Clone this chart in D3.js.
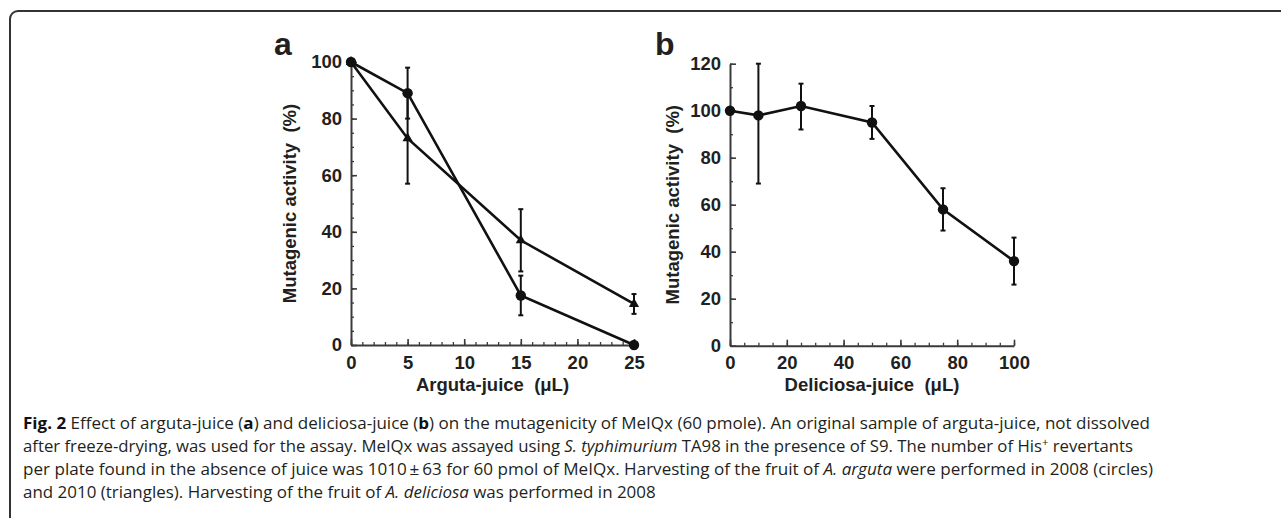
<!DOCTYPE html>
<html><head><meta charset="utf-8">
<script src="https://cdn.jsdelivr.net/npm/d3@7"></script>
<style>
html,body{margin:0;padding:0;background:#fff;}
svg{display:block;}
</style></head>
<body>
<svg id="c" width="1281" height="518"></svg>
<script>
// ---- data ----
const aX = [0, 5, 15, 25];
const aCircle = [100, 89, 17.5, 0];
const aCircleErr = [0, 9, 7, 0];
const aTri = [100, 73, 37, 14.5];
const aTriErr = [0, 16, 11, 3.5];
const aXTicks = [0, 5, 10, 15, 20, 25];
const aYTicks = [0, 20, 40, 60, 80, 100];

const bX = [0, 10, 25, 50, 75, 100];
const bY = [100, 98, 102, 95, 58, 36];
const bErrUp = [0, 22, 9.5, 7, 9, 10];
const bErrDown = [0, 29, 10, 7, 9, 10];
const bXTicks = [0, 20, 40, 60, 80, 100];
const bYTicks = [0, 20, 40, 60, 80, 100, 120];

const captionLines = [
  [["Fig. 2","b"],[" Effect of arguta-juice (",""],["a","b"],[") and deliciosa-juice (",""],["b","b"],[") on the mutagenicity of MeIQx (60 pmole). An original sample of arguta-juice, not dissolved",""]],
  [["after freeze-drying, was used for the assay. MeIQx was assayed using ",""],["S. typhimurium","i"],[" TA98 in the presence of S9. The number of His",""],["+","sup"],[" revertants",""]],
  [["per plate found in the absence of juice was 1010\u2009\u00b1\u200963 for 60 pmol of MeIQx. Harvesting of the fruit of ",""],["A. arguta","i"],[" were performed in 2008 (circles)",""]],
  [["and 2010 (triangles). Harvesting of the fruit of ",""],["A. deliciosa","i"],[" was performed in 2008",""]]
];

// ---- drawing ----
const svg = d3.select("#c");
const ink = "#231f20";
const axisCol = "#3a3a3a";
const fs = 18.5;
const ff = "'Liberation Sans', Arial, sans-serif";

// frame
svg.append("rect").attr("x",10).attr("y",11).attr("width",1400).attr("height",700)
  .attr("rx",8).attr("fill","none").attr("stroke","#333").attr("stroke-width",2);

function panel(cfg){
  const g = svg.append("g");
  const x = d3.scaleLinear().domain(cfg.xDomain).range(cfg.xRange);
  const y = d3.scaleLinear().domain(cfg.yDomain).range(cfg.yRange);
  const y0 = cfg.yRange[0], x0 = cfg.xRange[0];

  // minor ticks
  g.append("g").attr("transform",`translate(0,${y0})`)
    .call(d3.axisBottom(x).tickValues(d3.range(cfg.xDomain[0],cfg.xDomain[1]+1e-9,cfg.xMinor)).tickSizeInner(-3).tickSizeOuter(0).tickFormat(""))
    .call(s=>{s.select(".domain").remove(); s.selectAll("line").attr("stroke",axisCol).attr("stroke-width",1.3);});
  g.append("g").attr("transform",`translate(${x0},0)`)
    .call(d3.axisLeft(y).tickValues(d3.range(cfg.yDomain[0],cfg.yDomain[1]+1e-9,cfg.yMinor)).tickSizeInner(-3).tickSizeOuter(0).tickFormat(""))
    .call(s=>{s.select(".domain").remove(); s.selectAll("line").attr("stroke",axisCol).attr("stroke-width",1.3);});

  // major axes
  const xa = g.append("g").attr("transform",`translate(0,${y0})`)
    .call(d3.axisBottom(x).tickValues(cfg.xTicks).tickSizeInner(-6).tickSizeOuter(0).tickPadding(10.5));
  const ya = g.append("g").attr("transform",`translate(${x0},0)`)
    .call(d3.axisLeft(y).tickValues(cfg.yTicks).tickSizeInner(-6).tickSizeOuter(0).tickPadding(9));
  [xa,ya].forEach(a=>{
    a.select(".domain").attr("stroke",axisCol).attr("stroke-width",2);
    a.selectAll(".tick line").attr("stroke",axisCol).attr("stroke-width",1.6);
    a.selectAll("text").attr("fill",ink).attr("font-family",ff)
      .attr("font-weight","bold").attr("font-size",fs);
  });

  // titles
  g.append("text").attr("x",(cfg.xRange[0]+cfg.xRange[1])/2).attr("y",391)
    .attr("text-anchor","middle").attr("fill",ink).style("white-space","pre")
    .attr("font-family",ff).attr("font-weight","bold").attr("font-size",fs)
    .text(cfg.xTitle);
  const yc = (cfg.yRange[0]+cfg.yRange[1])/2;
  g.append("text").attr("transform",`translate(${cfg.yTitleX},${yc}) rotate(-90)`)
    .attr("text-anchor","middle").attr("fill",ink).style("white-space","pre")
    .attr("font-family",ff).attr("font-weight","bold").attr("font-size",fs)
    .text("Mutagenic activity  (%)");
  g.append("text").attr("x",cfg.letterX).attr("y",55).attr("fill",ink)
    .attr("font-family",ff).attr("font-weight","bold").attr("font-size",32)
    .text(cfg.letter);

  // series
  cfg.series.forEach(s=>{
    const pts = cfg.xs.map((d,i)=>({x:d,y:s.values[i],up:s.up[i],dn:s.dn[i]}));
    g.append("path").datum(pts)
      .attr("d",d3.line().x(d=>x(d.x)).y(d=>y(d.y)))
      .attr("fill","none").attr("stroke","#111").attr("stroke-width",2.6);
    const eb = g.append("g").selectAll("g").data(pts.filter(d=>d.up>0||d.dn>0)).join("g");
    eb.append("line").attr("x1",d=>x(d.x)).attr("x2",d=>x(d.x))
      .attr("y1",d=>y(d.y+d.up)).attr("y2",d=>y(d.y-d.dn)).attr("stroke","#111").attr("stroke-width",2);
    eb.append("line").attr("x1",d=>x(d.x)-2.5).attr("x2",d=>x(d.x)+2.5)
      .attr("y1",d=>y(d.y+d.up)).attr("y2",d=>y(d.y+d.up)).attr("stroke","#111").attr("stroke-width",2);
    eb.append("line").attr("x1",d=>x(d.x)-2.5).attr("x2",d=>x(d.x)+2.5)
      .attr("y1",d=>y(d.y-d.dn)).attr("y2",d=>y(d.y-d.dn)).attr("stroke","#111").attr("stroke-width",2);
    s.pts = pts;
  });
  // markers drawn after all lines
  cfg.series.slice().reverse().forEach(s=>{
    if (s.shape === "circle"){
      g.append("g").selectAll("circle").data(s.pts).join("circle")
        .attr("cx",d=>x(d.x)).attr("cy",d=>y(d.y)).attr("r",5.2).attr("fill","#111");
    } else {
      g.append("g").selectAll("path").data(s.pts).join("path")
        .attr("transform",d=>`translate(${x(d.x)},${y(d.y)})`)
        .attr("d",d3.symbol(d3.symbolTriangle,45)).attr("fill","#111");
    }
  });
}

panel({
  xDomain:[0,25], xRange:[351,634], yDomain:[0,100], yRange:[345,62],
  xTicks:aXTicks, yTicks:aYTicks, xMinor:1, yMinor:5,
  xTitle:"Arguta-juice  (\u03bcL)", yTitleX:296, letter:"a", letterX:274,
  xs:aX,
  series:[
    {values:aTri, up:aTriErr, dn:aTriErr, shape:"triangle"},
    {values:aCircle, up:aCircleErr, dn:aCircleErr, shape:"circle"}
  ]
});
panel({
  xDomain:[0,100], xRange:[730,1014], yDomain:[0,120], yRange:[345.7,63.7],
  xTicks:bXTicks, yTicks:bYTicks, xMinor:5, yMinor:10,
  xTitle:"Deliciosa-juice  (\u03bcL)", yTitleX:679, letter:"b", letterX:655,
  xs:bX,
  series:[
    {values:bY, up:bErrUp, dn:bErrDown, shape:"circle"}
  ]
});

// caption
const capY = [428.5, 451.7, 475, 498.2];
const capEnd = [1150, 1133, 1153, null];
const capX = 23;
const capNodes = captionLines.map((segs,i)=>{
  const t = svg.append("text").attr("x",capX).attr("y",capY[i]).attr("fill",ink)
    .attr("font-family","'Open Sans', 'Noto Sans', sans-serif").attr("font-size",16.5);
  let prevSup = false;
  segs.forEach(([txt,st])=>{
    const ts = t.append("tspan").text(txt);
    if (st==="b") ts.attr("font-weight","bold").attr("fill","#111");
    if (st==="i") ts.attr("font-style","italic");
    if (st==="sup") ts.attr("font-size",11).attr("dy",-6);
    else if (prevSup) ts.attr("dy",6);
    prevSup = (st==="sup");
  });
  return t;
});
const ratios = [];
capNodes.forEach((t,i)=>{
  if (capEnd[i]!==null){
    const w = t.node().getComputedTextLength();
    ratios.push((capEnd[i]-capX)/w);
    t.attr("textLength",capEnd[i]-capX).attr("lengthAdjust","spacingAndGlyphs");
  }
});
const rMean = d3.mean(ratios);
capNodes.forEach((t,i)=>{
  if (capEnd[i]===null){
    const w = t.node().getComputedTextLength();
    t.attr("textLength",w*rMean).attr("lengthAdjust","spacingAndGlyphs");
  }
});
</script>
</body></html>
